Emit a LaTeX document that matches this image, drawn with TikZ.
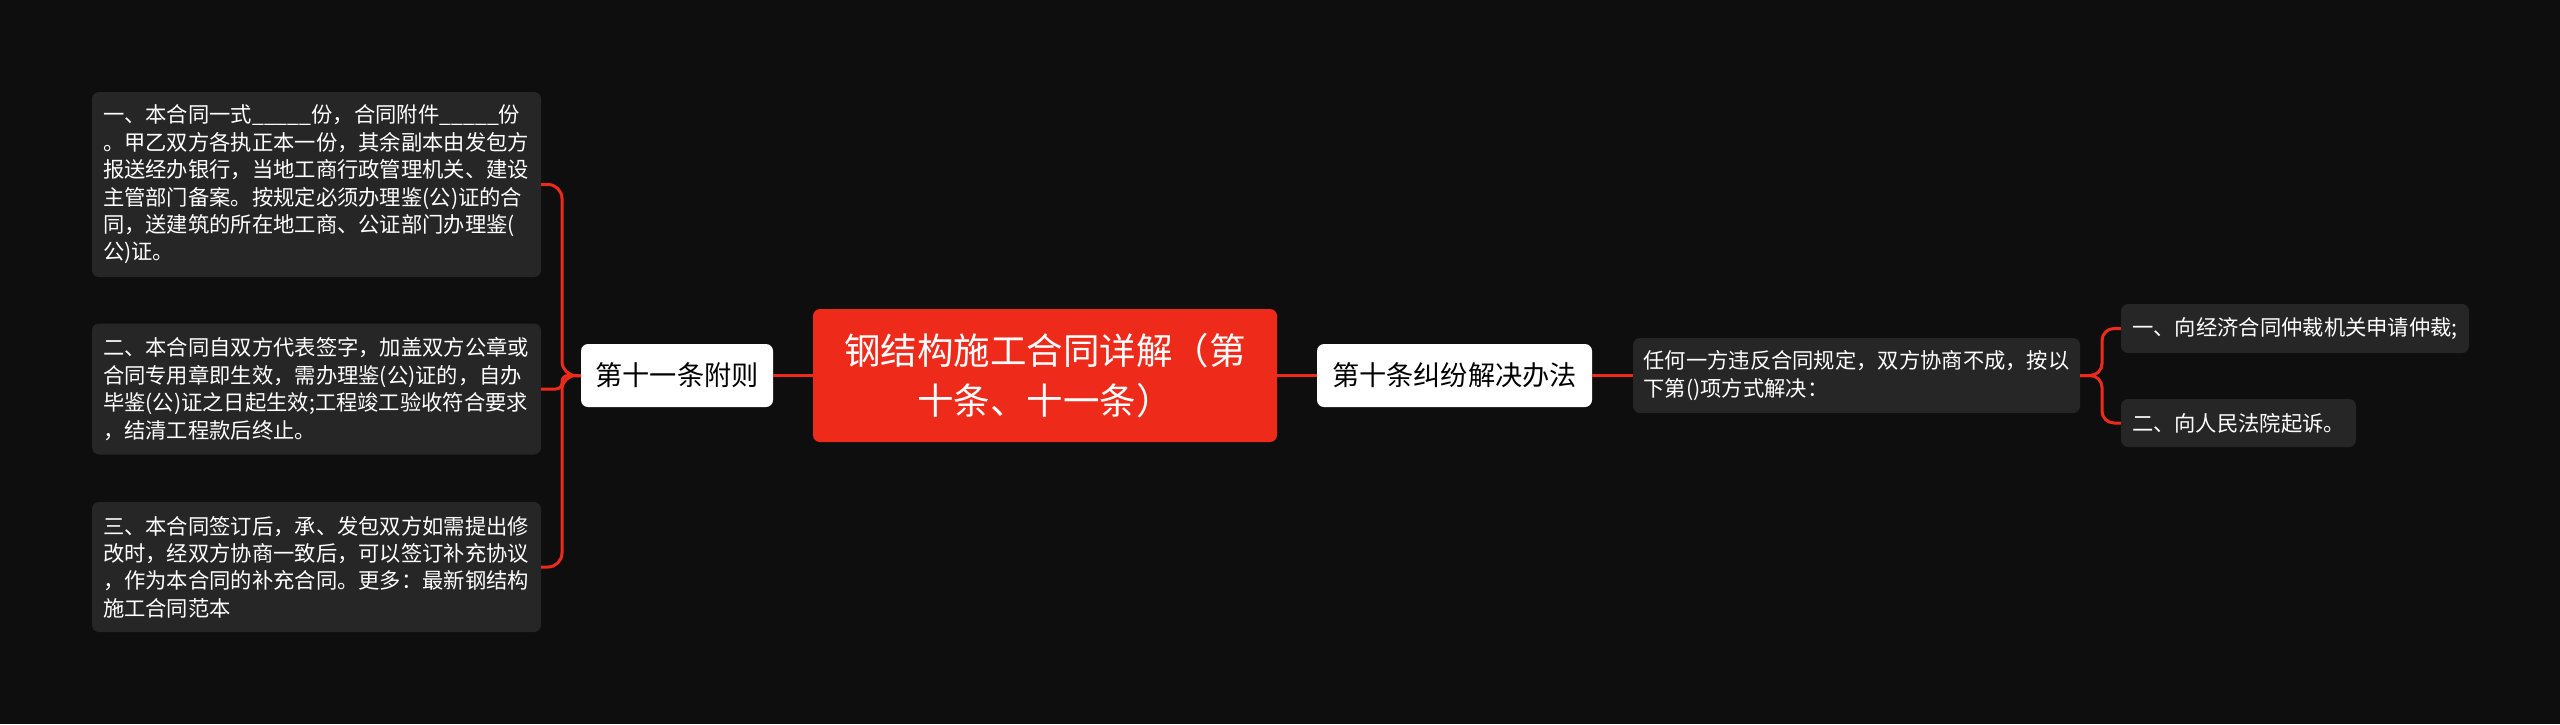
\documentclass[tikz,border=0pt]{standalone}
\usepackage{fontspec}
\setmainfont{Noto Sans CJK SC}
\definecolor{bgc}{HTML}{0E0E0E}
\definecolor{boxg}{HTML}{262626}
\definecolor{mred}{HTML}{EE2A1B}
\tikzset{
  graybox/.style={fill=boxg, rounded corners=7pt, text=white, inner ysep=0pt, align=left},
  leftbox/.style={graybox, text width=427pt, inner xsep=11pt, font=\fontsize{21.3}{27.4}\selectfont},
  leafbox/.style={fill=boxg, rounded corners=7pt, text=white, inner sep=0pt, font=\fontsize{21.3}{27.4}\selectfont},
  whitebox/.style={fill=white, rounded corners=7pt, text=black, inner sep=0pt, font=\fontsize{27.2}{32}\selectfont},
  mainbox/.style={fill=mred, rounded corners=7pt, text=white, inner sep=0pt, align=center, font=\fontsize{36.5}{50}\selectfont},
  conn/.style={draw=mred, line width=3pt, rounded corners=14pt}
}
\begin{document}
\begin{tikzpicture}[x=1pt,y=-1pt]
\useasboundingbox (0,0) rectangle (2560,724);
\fill[bgc] (0,0) rectangle (2560,724);

\node[mainbox, minimum width=464pt, minimum height=133pt] (main) at (1045,375.5)
  {钢结构施工合同详解（第\\十条、十一条）};

\node[whitebox, minimum width=192pt, minimum height=63pt] (n11) at (677,375.5) {第十一条附则};
\node[whitebox, minimum width=275pt, minimum height=63pt] (n10) at (1454.5,375.5) {第十条纠纷解决办法};

\node[leftbox, minimum height=185pt] (b1) at (316.5,184.5)
  {一、本合同一式\_\_\_\_\_份，合同附件\_\_\_\_\_份\\
   。甲乙双方各执正本一份，其余副本由发包方\\
   报送经办银行，当地工商行政管理机关、建设\\
   主管部门备案。按规定必须办理鉴(公)证的合\\
   同，送建筑的所在地工商、公证部门办理鉴(\\
   公)证。};
\node[leftbox, minimum height=131pt] (b2) at (316.5,389)
  {二、本合同自双方代表签字，加盖双方公章或\\
   合同专用章即生效，需办理鉴(公)证的，自办\\
   毕鉴(公)证之日起生效;工程竣工验收符合要求\\
   ，结清工程款后终止。};
\node[leftbox, minimum height=130pt] (b3) at (316.5,567)
  {三、本合同签订后，承、发包双方如需提出修\\
   改时，经双方协商一致后，可以签订补充协议\\
   ，作为本合同的补充合同。更多：最新钢结构\\
   施工合同范本};

\node[leftbox, text width=426pt, inner xsep=10.5pt, minimum height=75pt] (r0) at (1856.5,375.5)
  {任何一方违反合同规定，双方协商不成，按以\\
   下第()项方式解决：};

\node[leafbox, minimum width=348pt, minimum height=49pt] (l1) at (2295,328.5) {一、向经济合同仲裁机关申请仲裁;};
\node[leafbox, minimum width=235pt, minimum height=48pt] (l2) at (2238.5,423) {二、向人民法院起诉。};

% connectors
\draw[conn] (main.west) -- (n11.east);
\draw[conn] (main.east) -- (n10.west);
\draw[conn] (n10.east) -- (r0.west);

\coordinate (lj) at (562,375.5);
\draw[conn] (n11.west) -- (lj) |- (b1.east);
\draw[conn] (n11.west) -- (lj) |- (b3.east);
\draw[conn, rounded corners=6pt] (n11.west) -- (lj) |- (b2.east);

\coordinate (rj) at (2102,375.5);
\draw[conn, rounded corners=12pt] (r0.east) -- (rj) |- (l1.west);
\draw[conn, rounded corners=12pt] (r0.east) -- (rj) |- (l2.west);
\end{tikzpicture}
\end{document}
